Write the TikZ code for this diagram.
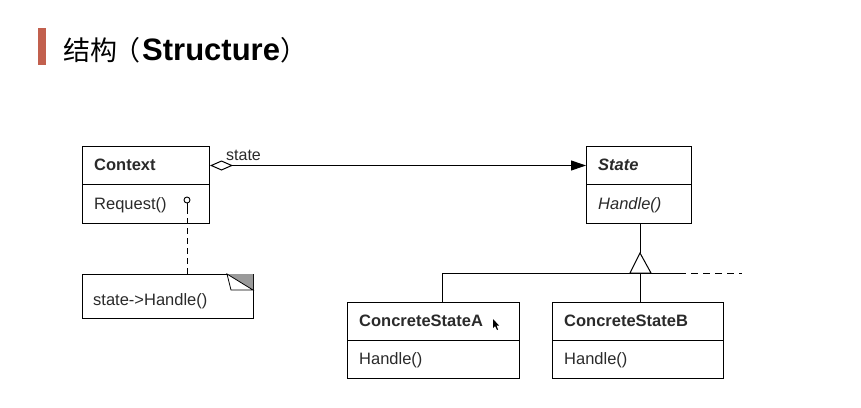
\documentclass[tikz,border=0pt]{standalone}
\usepackage{fontspec}
\setmainfont{Liberation Sans}
\newfontfamily\cjk{Noto Sans CJK SC}
\usetikzlibrary{arrows.meta}
\definecolor{barred}{HTML}{C2604E}
\definecolor{txt}{HTML}{2A2A2A}
\definecolor{earg}{HTML}{9A9A9A}
\tikzset{
  box/.style={draw=black, line width=1pt, rectangle, inner sep=0pt, anchor=north west},
  lbl/.style={anchor=base west, inner sep=0pt, text=txt, font=\fontsize{16.5}{19}\selectfont},
  bl/.style={lbl, font=\fontsize{16.5}{19}\selectfont\bfseries},
  conn/.style={line width=1pt, black},
  ttl/.style={anchor=base west, inner sep=0pt, text=black, font=\cjk\fontsize{27}{30}\selectfont},
}
\begin{document}
\begin{tikzpicture}[x=1pt,y=-1pt]
\useasboundingbox (0,0) rectangle (861,407);
% title
\fill[barred] (38,28) rectangle (46,65);
\node[ttl] (title1) at (63,60) {结构};
\node[ttl] (title2) at (113,60) {（};
\node[ttl, font=\fontsize{31}{34}\selectfont\bfseries] (title3) at (142,60) {Structure};
\node[ttl] (title4) at (title3.base east) {）};

% Context
\node[box, minimum width=127, minimum height=38] (ctxT) at (82,146) {};
\node[box, minimum width=127, minimum height=39] (ctxB) at (82,184) {};
\node[bl] (ctxN) at (94,170) {Context};
\node[lbl] (ctxM) at (94,209) {Request()};

% State
\node[box, minimum width=105, minimum height=38] (stT) at (586,146) {};
\node[box, minimum width=105, minimum height=39] (stB) at (586,184) {};
\node[bl, font=\fontsize{16.5}{19}\selectfont\bfseries\itshape] (stN) at (598,170) {State};
\node[lbl, font=\fontsize{16.5}{19}\selectfont\itshape] (stM) at (598,209) {Handle()};

% ConcreteStateA
\node[box, minimum width=172, minimum height=38] (aT) at (347,302) {};
\node[box, minimum width=172, minimum height=38] (aB) at (347,340) {};
\node[bl] (aN) at (359,326) {ConcreteStateA};
\node[lbl] (aM) at (359,364) {Handle()};

% ConcreteStateB
\node[box, minimum width=171, minimum height=38] (bT) at (552,302) {};
\node[box, minimum width=171, minimum height=38] (bB) at (552,340) {};
\node[bl] (bN) at (564,326) {ConcreteStateB};
\node[lbl] (bM) at (564,364) {Handle()};

% note
\node[box, minimum width=171, minimum height=44] (note) at (82,274) {};
\node[lbl] (noteT) at (93,305) {state->Handle()};
\fill[earg] (227,274) -- (253,274) -- (253,290) -- cycle;
\draw[line width=0.8pt, fill=white] (227,274) -- (231,290) -- (253,290) -- cycle;

% association
\draw[conn, {Diamond[open,length=23pt,width=10pt]}-{Triangle[length=15pt,width=10pt]}]
  (ctxT.east) -- (stT.west);
\node[lbl, font=\fontsize{16}{18}\selectfont] (stlbl) at (226,160) {state};

% note link
\coordinate (dot) at (187,200);
\draw[line width=0.9pt] (dot) circle (3);
\draw[line width=0.9pt] (187,203) -- (187,208);
\draw[line width=0.9pt, dash pattern=on 6pt off 4pt] (187,208) -- (note.north -| dot);

% inheritance
\coordinate (tri) at (640,273);
\coordinate (bus) at (442,273);
\coordinate (busR) at (686,273);
\coordinate (dashEnd) at (742,273);
\draw[conn] (stB.south -| tri) -- (640,253);
\draw[conn] (640,253) -- (630,273) -- (651,273) -- cycle;
\draw[conn] (aT.north -| bus) -- (bus) -- (busR);
\draw[conn] (tri) -- (bT.north -| tri);
\draw[line width=1pt, dash pattern=on 7pt off 5pt] (busR) ++(5,0) -- (dashEnd);

% cursor
\fill[black] (493,319) -- (493,328) -- (495,326) -- (497,330) -- (498,329.5) -- (496.5,325.5) -- (499,325.5) -- cycle;
\end{tikzpicture}
\end{document}
